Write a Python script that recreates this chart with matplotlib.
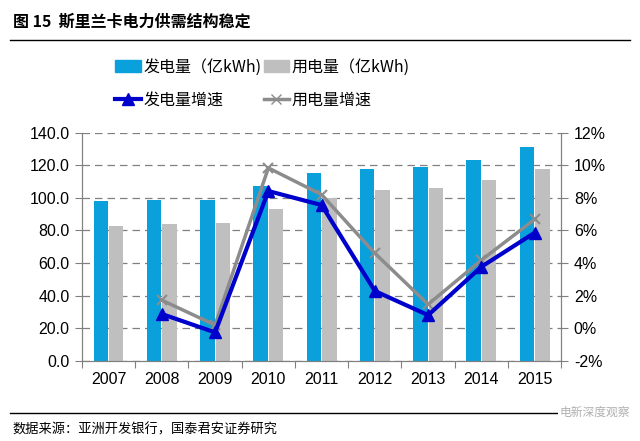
import matplotlib
matplotlib.use('Agg')
import matplotlib.pyplot as plt
from matplotlib.ticker import FuncFormatter
from matplotlib.lines import Line2D
from matplotlib.patches import Patch
import numpy as np

plt.rcParams['font.family'] = ['Liberation Sans', 'Noto Sans CJK SC', 'DejaVu Sans']

years = ['2007', '2008', '2009', '2010', '2011', '2012', '2013', '2014', '2015']
generation = [98.0, 99.0, 98.5, 107.0, 115.5, 118.0, 119.0, 123.5, 131.0]
consumption = [82.7, 83.9, 84.3, 92.9, 100.2, 104.8, 106.0, 110.7, 117.7]
gen_growth = [None, 0.87, -0.26, 8.42, 7.56, 2.28, 0.80, 3.77, 5.86]
con_growth = [None, 1.72, 0.19, 9.84, 8.2, 4.6, 1.46, 4.18, 6.68]

BLUE = '#0AA0DC'
GREY = '#BFBFBF'
LINE_BLUE = '#0000CC'
LINE_GREY = '#8C8C8C'
AXIS_GREY = '#808080'

fig = plt.figure(figsize=(6.4, 4.41), dpi=100)
ax = fig.add_axes([0.128, 0.182, 0.749, 0.517])
ax2 = ax.twinx()

x = np.arange(len(years))
w = 0.27
ax.bar(x - 0.145, generation, w, color=BLUE, zorder=2)
ax.bar(x + 0.145, consumption, w, color=GREY, zorder=2)

ax.set_ylim(0, 140)
ax.set_yticks(np.arange(0, 141, 20))
ax.yaxis.set_major_formatter(FuncFormatter(lambda v, p: '%.1f' % v))
ax.set_xlim(-0.5, len(years) - 0.5)
ax.set_xticks(np.arange(-0.5, len(years), 1))
ax.set_xticklabels([])
ax.set_xticks(x, minor=True)
ax.set_xticklabels(years, minor=True)
ax.tick_params(axis='x', which='major', length=5, color=AXIS_GREY)
ax.tick_params(axis='x', which='minor', length=0, labelsize=11.5, pad=8)
ax.tick_params(axis='y', length=5, color=AXIS_GREY, labelsize=11.5, pad=4)
ax.grid(axis='y', linestyle=(0, (6, 4)), color='#808080', linewidth=0.9, zorder=0)
ax.set_axisbelow(True)

gx = [i for i, v in enumerate(gen_growth) if v is not None]
gy = [v / 100 for v in gen_growth if v is not None]
cx = [i for i, v in enumerate(con_growth) if v is not None]
cy = [v / 100 for v in con_growth if v is not None]
ax2.plot(cx, cy, color=LINE_GREY, linewidth=2.5, marker='x', markersize=7,
         markeredgewidth=1.5, zorder=3)
ax2.plot(gx, gy, color=LINE_BLUE, linewidth=3, marker='^', markersize=8, zorder=4)
ax2.set_ylim(-0.02, 0.12)
ax2.set_yticks(np.arange(-0.02, 0.121, 0.02))
ax2.yaxis.set_major_formatter(FuncFormatter(lambda v, p: '%d%%' % round(v * 100)))
ax2.tick_params(axis='y', length=5, color=AXIS_GREY, labelsize=11.5, pad=4)

for a in (ax, ax2):
    a.spines['top'].set_visible(False)
    for s in ('left', 'right', 'bottom'):
        a.spines[s].set_color(AXIS_GREY)

# ncol=2 fills column by column
handles = [Patch(color=BLUE),
           Line2D([], [], color=LINE_BLUE, linewidth=3, marker='^', markersize=8),
           Patch(color=GREY),
           Line2D([], [], color=LINE_GREY, linewidth=2.5, marker='x', markersize=7)]
labels = ['发电量（亿kWh)', '发电量增速', '用电量（亿kWh)', '用电量增速']
fig.legend(handles, labels, ncol=2, loc='center', bbox_to_anchor=(0.41, 0.81),
           frameon=False, handlelength=1.6, handleheight=0.8,
           handletextpad=0.15, columnspacing=0.15, labelspacing=1.0,
           prop={'family': ['Noto Sans CJK SC', 'Liberation Sans'], 'size': 11.5})

fig.text(0.02, 0.95, '图 15  斯里兰卡电力供需结构稳定', fontsize=11.5, fontweight='bold',
         family=['Noto Sans CJK SC', 'DejaVu Sans'], va='center')
fig.add_artist(Line2D([0.016, 0.985], [0.909, 0.909], color='black', linewidth=1))
fig.add_artist(Line2D([0.016, 0.93], [0.064, 0.064], color='black', linewidth=1))
fig.text(0.02, 0.025, '数据来源：亚洲开发银行，国泰君安证券研究', fontsize=9.5,
         family=['Noto Sans CJK SC', 'DejaVu Sans'], va='center')
fig.text(0.985, 0.064, '电新深度观察', fontsize=8.5, color='#B0B0B0', ha='right',
         va='center', family=['Noto Sans CJK SC', 'DejaVu Sans'],
         bbox=dict(facecolor='white', edgecolor='none', pad=1))

fig.savefig('out.png', dpi=100, facecolor='white')
